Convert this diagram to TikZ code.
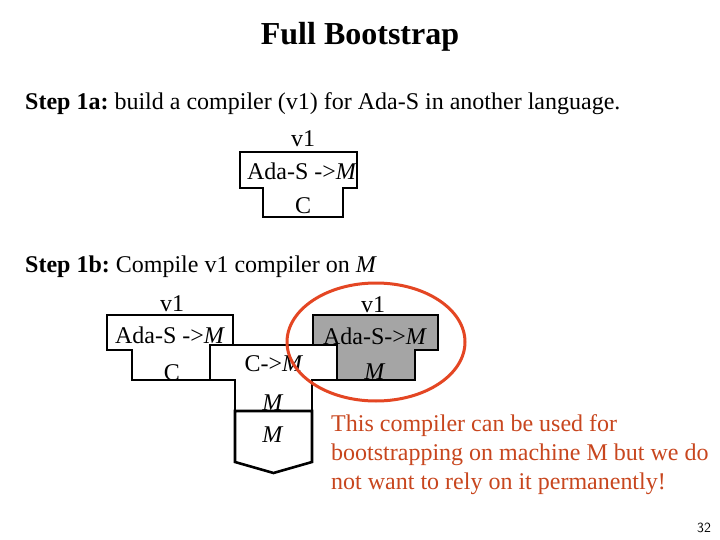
\documentclass[tikz,border=0pt]{standalone}
\usepackage{fontspec}
\setmainfont{Liberation Serif}
\frenchspacing
\definecolor{redtxt}{RGB}{200,70,30}
\definecolor{ringred}{RGB}{228,70,35}
\definecolor{tgrey}{RGB}{165,165,165}
\begin{document}
\begin{tikzpicture}[x=1pt,y=-1pt,
  tbox/.style={draw=black,line width=2.6pt,line join=miter},
  lbl/.style={inner sep=0pt,font=\fontsize{24}{28}\selectfont},
  para/.style={inner sep=0pt,anchor=base west,font=\fontsize{24}{28}\selectfont}]
\useasboundingbox[fill=white] (0,0) rectangle (720,540);
% title
\node[inner sep=0pt,anchor=base,font=\fontsize{32}{36}\selectfont\bfseries] (title) at (360,45) {Full Bootstrap};
\node[para] (s1a) at (25,110) {\textbf{Step 1a:} build a compiler (v1) for Ada-S in another language.};
% first T
\draw[tbox,fill=white] (240,152) -- (357,152) -- (357,188) -- (343,188) -- (343,217) -- (263,217) -- (263,188) -- (240,188) -- cycle;
\node[lbl,anchor=base] (t1v) at (303,147) {v1};
\node[lbl,anchor=base] (t1a) at (302,180) {Ada-S -{>}\textit{M}};
\node[lbl,anchor=base] (t1c) at (303,214) {C};
\node[para] (s1b) at (25,272) {\textbf{Step 1b:} Compile v1 compiler on \textit{M}};
% left T
\draw[tbox,fill=white] (107,315) -- (233,315) -- (233,350) -- (210,350) -- (210,380) -- (132,380) -- (132,350) -- (107,350) -- cycle;
% right T (grey)
\draw[tbox,fill=tgrey] (313,315) -- (438,315) -- (438,350) -- (415,350) -- (415,380) -- (337,380) -- (337,350) -- (313,350) -- cycle;
% middle compiler C->M
\draw[tbox,fill=white] (210,345) -- (337,345) -- (337,380) -- (312,380) -- (312,411) -- (235,411) -- (235,380) -- (210,380) -- cycle;
% machine M
\draw[tbox,fill=white] (235,411) -- (312,411) -- (312,462) -- (273.5,473) -- (235,462) -- cycle;
% texts
\node[lbl,anchor=base] (lv) at (172,311) {v1};
\node[lbl,anchor=base] (la) at (170,343) {Ada-S -{>}\textit{M}};
\node[lbl,anchor=base] (lc) at (172,380) {C};
\node[lbl,anchor=base] (rv) at (373,312) {v1};
\node[lbl,anchor=base] (ra) at (375,344) {Ada-S-{>}\textit{M}};
\node[lbl,anchor=base] (rm) at (375,379) {\textit{M}};
\node[lbl,anchor=base] (mc) at (274,371) {C-{>}\textit{M}};
\node[lbl,anchor=base] (mm1) at (273,410) {\textit{M}};
\node[lbl,anchor=base] (mm2) at (273,442) {\textit{M}};
% red ring
\draw[ringred,line width=3pt] (376,342) ellipse [x radius=89,y radius=59];
\node[para,text=redtxt] (r1) at (331,431) {This compiler can be used for};
\node[para,text=redtxt] (r2) at (331,460) {bootstrapping on machine M but we do};
\node[para,text=redtxt] (r3) at (331,489) {not want to rely on it permanently!};
\node[inner sep=0pt,anchor=base,font=\fontsize{14}{16}\sffamily] (pg) at (704,532) {32};
\end{tikzpicture}
\end{document}
